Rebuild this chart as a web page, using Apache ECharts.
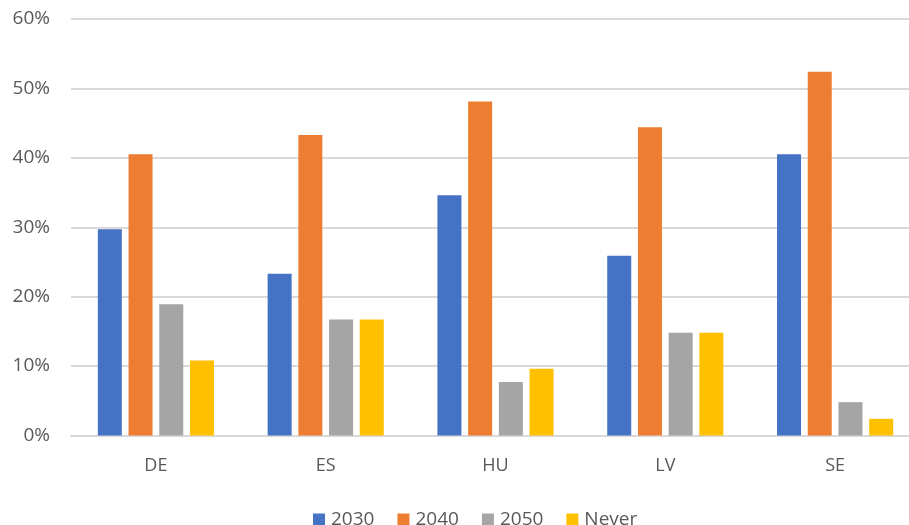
<!DOCTYPE html>
<html>
<head>
<meta charset="utf-8">
<script src="https://cdn.jsdelivr.net/npm/echarts@6/dist/echarts.min.js"></script>
<style>
  html, body { margin: 0; padding: 0; background: #ffffff; }
  #chart { width: 909px; height: 525px; }
</style>
</head>
<body>
<div id="chart"></div>
<script>
// Countries on the category axis
const countries = ['DE', 'ES', 'HU', 'LV', 'SE'];

// Share of answers per year (in percent)
const s2030 = [29.7, 23.3, 34.6, 25.9, 40.5];
const s2040 = [40.5, 43.3, 48.1, 44.4, 52.4];
const s2050 = [18.9, 16.7, 7.7, 14.8, 4.8];
const sNever = [10.8, 16.7, 9.6, 14.8, 2.4];

const seriesNames = ['2030', '2040', '2050', 'Never'];
const seriesColors = ['#4472c4', '#ed7d31', '#a5a5a5', '#ffc000'];

const fontFamily = '"Open Sans", "Liberation Sans", sans-serif';
const textColor = '#595959';

const chart = echarts.init(document.getElementById('chart'), null, { renderer: 'canvas' });

const seriesData = [s2030, s2040, s2050, sNever];

chart.setOption({
  animation: false,
  backgroundColor: '#ffffff',
  // plot area runs slightly past the right edge of the canvas
  grid: {
    left: 71, width: 849, top: 19, bottom: 89.5,
    containLabel: false,
    outerBoundsMode: 'none'
  },
  legend: {
    data: seriesNames,
    left: 308,
    top: 505,
    itemWidth: 12,
    itemHeight: 12,
    itemGap: 23,
    icon: 'rect',
    textStyle: { color: textColor, fontSize: 19, fontFamily: fontFamily, padding: [0, 0, 0, 1] }
  },
  xAxis: {
    type: 'category',
    data: countries,
    axisLine: { lineStyle: { color: '#d9d9d9', width: 2 } },
    axisTick: { show: false },
    axisLabel: { color: textColor, fontSize: 18, fontFamily: fontFamily, margin: 21 }
  },
  yAxis: {
    type: 'value',
    min: 0,
    max: 60,
    interval: 10,
    axisLine: { show: false },
    axisTick: { show: false },
    splitLine: { lineStyle: { color: '#d9d9d9', width: 2 } },
    axisLabel: { color: textColor, fontSize: 19, fontFamily: fontFamily, margin: 21, formatter: '{value}%' }
  },
  series: seriesNames.map((name, i) => ({
    name: name,
    type: 'bar',
    data: seriesData[i],
    barGap: '28%',
    barCategoryGap: '31.6%',
    itemStyle: { color: seriesColors[i] }
  }))
});
</script>
</body>
</html>
